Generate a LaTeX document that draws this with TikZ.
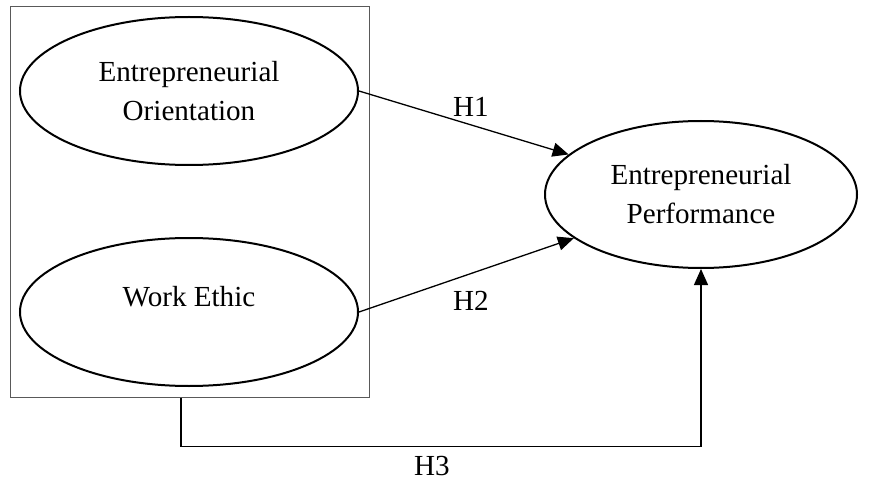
\documentclass[tikz,border=0pt]{standalone}
\usepackage{fontspec}
\setmainfont{Liberation Serif}
\usetikzlibrary{arrows.meta,shapes.geometric,positioning}

\begin{document}
\begin{tikzpicture}[x=0.5pt,y=-0.5pt,
  every node/.style={font=\fontsize{14.55}{19.5}\selectfont},
  latent/.style={ellipse,draw=black,line width=1pt,inner sep=0pt,align=center},
  link/.style={line width=0.65pt,-{Triangle[length=8pt,width=7pt]}},
  hyp/.style={inner sep=0pt}]
	\useasboundingbox (0,0) rectangle (873,481);
	% outer box round the two predictors
	\node[draw=black!65,line width=0.5pt,inner sep=0pt,minimum width=179.5pt,minimum height=195pt] (grp) at (189.5,202) {};
	\node[latent,minimum width=169pt,minimum height=74pt] (eo) at (189,91) {Entrepreneurial\\Orientation};
	\node[latent,minimum width=169pt,minimum height=74pt,label={[yshift=7.5pt]center:Work Ethic}] (we) at (189,312) {};
	\node[latent,minimum width=156pt,minimum height=73.5pt] (ep) at (701,194.5) {Entrepreneurial\\Performance};
	\draw[link] (eo.east) -- (ep);
	\draw[link] (we.east) -- (ep);
	\draw[link] ([xshift=-4.25pt]grp.south) -- ++(0,49) -| (ep.south);
	\node[hyp] (h1) at (471,107) {H1};
	\node[hyp] (h2) at (471,301) {H2};
	\node[hyp] (h3) at (432,466) {H3};
\end{tikzpicture}
\end{document}
